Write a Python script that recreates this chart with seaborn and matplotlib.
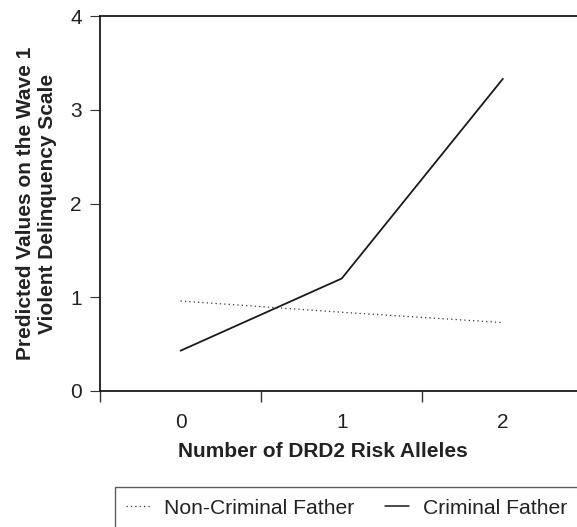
import pandas as pd
import matplotlib.pyplot as plt
import seaborn as sns
from matplotlib.ticker import FixedLocator

alleles = [0, 1, 2]
non_criminal = [0.96, 0.84, 0.73]
criminal = [0.43, 1.20, 3.33]
groups = ['Non-Criminal Father', 'Criminal Father']

df = pd.DataFrame({
    'Alleles': alleles * 2,
    'Value': non_criminal + criminal,
    'Group': [groups[0]] * 3 + [groups[1]] * 3,
})

sns.set_theme(style='white')
plt.rcParams['font.family'] = ['Liberation Sans', 'DejaVu Sans']

fig = plt.figure(figsize=(5.77, 5.27), dpi=100)
ax = fig.add_axes([100 / 577, 1 - 391 / 527, 477 / 577, 375 / 527])

sns.lineplot(data=df, x='Alleles', y='Value', hue='Group', style='Group',
             palette={groups[0]: '#333333', groups[1]: '#1a1a1a'},
             dashes={groups[0]: (1, 2.5), groups[1]: ''},
             size='Group', sizes={groups[0]: 0.9, groups[1]: 1.3},
             ax=ax, legend=False)

ax.set_xlim(-0.5, 2.46)
ax.set_ylim(0, 4)
ax.set_yticks([0, 1, 2, 3, 4])
ax.set_xticks(alleles)
ax.xaxis.set_minor_locator(FixedLocator([-0.5, 0.5, 1.5, 2.5]))
ax.tick_params(axis='x', which='major', length=0, pad=16, labelsize=15, colors='#222222')
ax.tick_params(axis='x', which='minor', bottom=True, length=8, width=1, color='#333333', direction='out')
ax.tick_params(axis='y', left=True, length=7, width=0.8, pad=6, labelsize=15,
               labelcolor='#222222', color='#333333', direction='out')

for s in ['left', 'top', 'bottom']:
    ax.spines[s].set_visible(True)
    ax.spines[s].set_color('#1a1a1a')
    ax.spines[s].set_linewidth(1.3)
ax.spines['right'].set_visible(False)

ax.set_xlabel('Number of DRD2 Risk Alleles', fontsize=15, fontweight='bold', color='#222222')
ax.xaxis.set_label_coords((323 - 100) / 477, -0.135)
ax.set_ylabel('Predicted Values on the Wave 1\nViolent Delinquency Scale',
              fontsize=15, fontweight='bold', color='#222222', linespacing=1.2)
ax.yaxis.set_label_coords((57 - 100) / 477, 0.5)

handles = [
    plt.Line2D([], [], color='#333333', lw=0.9, dashes=(1, 2.5)),
    plt.Line2D([], [], color='#1a1a1a', lw=1.1),
]
leg = fig.legend(handles, groups, loc='center left', ncol=2,
                 bbox_to_anchor=(104 / 577, 1 - 508 / 527),
                 frameon=True, fancybox=False, fontsize=15.2, handlelength=1.15,
                 handletextpad=0.65, columnspacing=1.45, borderpad=0.55,
                 labelcolor='#222222')
leg.get_frame().set_edgecolor('#333333')
leg.get_frame().set_linewidth(1.0)

fig.savefig('out.png', dpi=100)
